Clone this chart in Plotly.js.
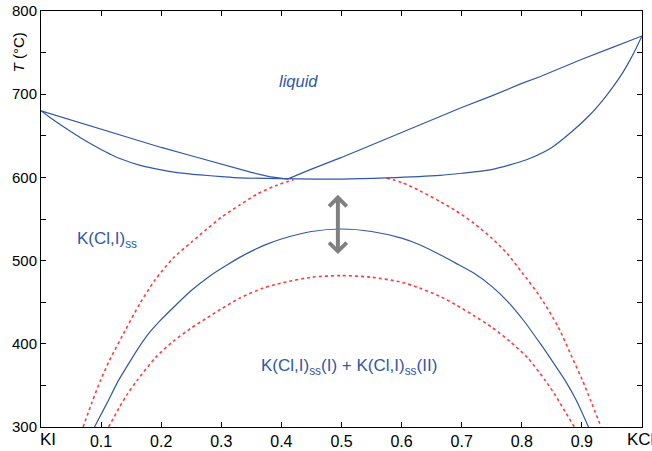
<!DOCTYPE html>
<html>
<head>
<meta charset="utf-8">
<script src="https://cdn.plot.ly/plotly-3.0.1.min.js"></script>
<style>html,body{margin:0;padding:0;background:#fff;overflow:hidden}#chart{width:652px;height:451px}</style>
</head>
<body>
<div id="chart"></div>
<script>
// Liquidus
const liqX = [0, 0.05, 0.1, 0.15, 0.2, 0.25, 0.3, 0.35, 0.38, 0.41, 0.45, 0.5, 0.55, 0.6, 0.664, 0.7, 0.75, 0.8, 0.83, 0.9, 0.95, 1];
const liqT = [680, 669, 658, 647, 636, 626, 616, 606, 601, 598, 610, 624, 639, 654, 673, 684, 698, 713, 721, 742, 756, 770];
// Solidus
const solX = [0, 0.015, 0.03, 0.05, 0.065, 0.085, 0.1, 0.115, 0.13, 0.165, 0.2, 0.23, 0.265, 0.3, 0.33, 0.4, 0.5, 0.575, 0.664, 0.7, 0.747, 0.78, 0.814, 0.85, 0.88, 0.913, 0.935, 0.952, 0.968, 0.98, 0.99, 1];
const solT = [680, 672, 664.5, 655, 648, 639.5, 633.5, 628, 623, 614.5, 609, 605.5, 603, 601, 599.5, 598.5, 598, 599.5, 602.5, 605, 609, 615, 623, 636, 653, 675, 693, 709, 726, 741, 755, 770];
// Miscibility gap (solid blue)
const gapX = [0.089, 0.11, 0.129, 0.15, 0.165, 0.18, 0.197, 0.225, 0.25, 0.28, 0.31, 0.336, 0.37, 0.4, 0.45, 0.5, 0.55, 0.6, 0.63, 0.664, 0.69, 0.72, 0.75, 0.775, 0.803, 0.83, 0.85, 0.872, 0.89, 0.911];
const gapT = [300, 329, 356, 381, 398, 413, 427, 447, 464, 481, 495, 506, 518, 526, 535, 538, 535, 527, 519, 507, 497, 485, 469, 452, 428, 401, 380, 356, 333, 300];
// Outer red dotted curve (left and right branches)
const outerLX = [0.07, 0.085, 0.099, 0.114, 0.14, 0.165, 0.19, 0.22, 0.25, 0.276, 0.3, 0.331, 0.36, 0.39, 0.42];
const outerLT = [300, 330, 356, 380, 416, 449, 477, 503, 522, 538, 552, 567, 580, 590, 597];
const outerRX = [0.575, 0.6, 0.63, 0.664, 0.69, 0.72, 0.75, 0.775, 0.8, 0.83, 0.86, 0.886, 0.901, 0.915, 0.932];
const outerRT = [599, 594, 584, 571, 560, 545, 527, 509, 486, 457, 421, 380, 356, 331, 300];
// Inner red dotted curve
const innerX = [0.1125, 0.13, 0.145, 0.16, 0.19, 0.22, 0.25, 0.276, 0.3, 0.331, 0.37, 0.4, 0.45, 0.5, 0.55, 0.6, 0.63, 0.664, 0.69, 0.72, 0.75, 0.78, 0.81, 0.839, 0.855, 0.87, 0.8875];
const innerT = [300, 323, 341, 356, 383, 403, 419, 431, 442, 455, 467, 473, 480, 482, 480, 474, 467, 457, 447, 434, 420, 403, 383, 356, 339, 321, 300];
// Axis ticks
const xTickVals = [0.1, 0.2, 0.3, 0.4, 0.5, 0.6, 0.7, 0.8, 0.9];
const xTickText = ['0.1', '0.2', '0.3', '0.4', '0.5', '0.6', '0.7', '0.8', '0.9'];
const xEndLabels = ['KI', 'KCl'];
const yTickVals = [300, 400, 500, 600, 700, 800];
const yTickText = ['300', '400', '500', '600', '700', '800'];
const yMinorVals = [350, 450, 550, 650, 750];
// Arrow (temperature span)
const arrowX = 0.494, arrowTop = 579, arrowBottom = 506;

const blue = '#3157a7';
const red = '#ff3b3b';
const sp = {shape: 'spline', smoothing: 0.7};

const traces = [
  {x: outerLX, y: outerLT, mode: 'lines', line: Object.assign({color: red, width: 1.6, dash: 'dot'}, sp)},
  {x: outerRX, y: outerRT, mode: 'lines', line: Object.assign({color: red, width: 1.6, dash: 'dot'}, sp)},
  {x: innerX, y: innerT, mode: 'lines', line: Object.assign({color: red, width: 1.6, dash: 'dot'}, sp)},
  {x: gapX, y: gapT, mode: 'lines', line: Object.assign({color: blue, width: 1.2}, sp)},
  {x: solX, y: solT, mode: 'lines', line: Object.assign({color: blue, width: 1.2}, sp)},
  {x: liqX, y: liqT, mode: 'lines', line: {color: blue, width: 1.2}}
];

const font = 'Liberation Sans, Arial, sans-serif';
const layout = {
  width: 652, height: 451,
  margin: {l: 41, r: 10, t: 11, b: 24},
  paper_bgcolor: '#fff', plot_bgcolor: '#fff',
  showlegend: false,
  font: {family: font, color: '#000', size: 15},
  xaxis: {
    range: [0, 1], tickmode: 'array', tickvals: xTickVals, ticktext: xTickText,
    ticks: 'inside', ticklen: 5, tickcolor: '#000', tickwidth: 1,
    showline: true, linecolor: '#000', linewidth: 1, mirror: 'ticks',
    showgrid: false, zeroline: false, tickfont: {size: 16}
  },
  yaxis: {
    range: [300, 800], tickmode: 'array', tickvals: yTickVals, ticktext: yTickText,
    ticks: 'inside', ticklen: 5, tickcolor: '#000', tickwidth: 1,
    minor: {tickmode: 'array', tickvals: yMinorVals, ticks: 'inside', ticklen: 5, tickcolor: '#000', tickwidth: 1, showgrid: false},
    showline: true, linecolor: '#000', linewidth: 1, mirror: 'ticks',
    showgrid: false, zeroline: false, tickfont: {size: 15}
  },
  annotations: [
    {xref: 'paper', yref: 'paper', x: 0.011, y: -0.031, text: xEndLabels[0], showarrow: false,
     font: {size: 17, color: '#000'}, xanchor: 'center', yanchor: 'middle'},
    {xref: 'paper', yref: 'paper', x: 0.997, y: -0.031, text: xEndLabels[1], showarrow: false,
     font: {size: 17, color: '#000'}, xanchor: 'center', yanchor: 'middle'},
    {xref: 'paper', yref: 'y', x: -0.037, y: 750, text: '<i>T</i> (°C)', textangle: -90,
     showarrow: false, font: {size: 15, color: '#000'}, xanchor: 'center', yanchor: 'middle'},
    {x: 0.428, y: 716, text: '<i>liquid</i>', showarrow: false, font: {size: 16.5, color: blue}},
    {x: 0.109, y: 525, text: 'K(Cl,I)<sub>ss</sub>', showarrow: false, font: {size: 17, color: blue}},
    {x: 0.513, y: 372, text: 'K(Cl,I)<sub>ss</sub>(I) + K(Cl,I)<sub>ss</sub>(II)', showarrow: false, font: {size: 17, color: blue}},
    {x: arrowX, y: arrowTop, ax: arrowX, ay: arrowBottom, axref: 'x', ayref: 'y', text: '',
     showarrow: true, arrowside: 'end+start', arrowhead: 4, startarrowhead: 4,
     arrowsize: 0.85, startarrowsize: 0.85, arrowwidth: 4, arrowcolor: '#808080', standoff: 0, startstandoff: 0}
  ]
};

Plotly.newPlot('chart', traces, layout, {displayModeBar: false, staticPlot: true});
</script>
</body>
</html>
